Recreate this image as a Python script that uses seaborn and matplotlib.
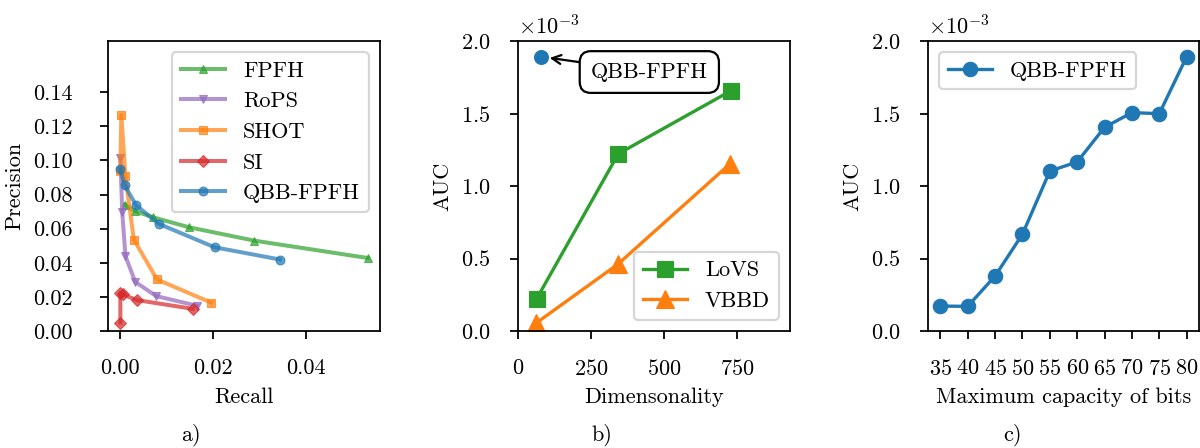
import matplotlib
matplotlib.use("Agg")
import matplotlib.pyplot as plt
import seaborn as sns
import numpy as np

plt.rcParams['font.family'] = ['cmr10', 'DejaVu Serif']
plt.rcParams['mathtext.fontset'] = 'cm'
plt.rcParams['axes.formatter.use_mathtext'] = True
plt.rcParams['font.size'] = 10
plt.rcParams['axes.unicode_minus'] = False

# ---- Panel a data (Recall / Precision) ----
fpfh_recall = [0.0009, 0.0032, 0.0070, 0.0148, 0.0288, 0.0533]
fpfh_prec = [0.0741, 0.0702, 0.0667, 0.0608, 0.0530, 0.0428]
rops_recall = [0.0000, 0.0004, 0.0011, 0.0032, 0.0077, 0.0165]
rops_prec = [0.1014, 0.0696, 0.0439, 0.0288, 0.0205, 0.0148]
shot_recall = [0.0000, 0.0002, 0.0011, 0.0029, 0.0079, 0.0196]
shot_prec = [0.0936, 0.1267, 0.0906, 0.0536, 0.0302, 0.0166]
si_recall = [0.0000, 0.0000, 0.0005, 0.0036, 0.0156]
si_prec = [0.0049, 0.0224, 0.0214, 0.0181, 0.0130]
qbb_recall = [0.0000, 0.0009, 0.0034, 0.0083, 0.0203, 0.0344]
qbb_prec = [0.0949, 0.0854, 0.0737, 0.0628, 0.0491, 0.0419]
prec_ticks = [0.00, 0.02, 0.04, 0.06, 0.08, 0.10, 0.12, 0.14]

# ---- Panel b data (Dimensionality / AUC) ----
lovs_dim = [64, 343, 729]
lovs_auc = [0.223e-3, 1.222e-3, 1.658e-3]
vbbd_dim = [61, 341, 726]
vbbd_auc = [0.053e-3, 0.460e-3, 1.155e-3]
qbb_dim = [78]
qbb_auc_b = [1.892e-3]
dim_ticks = [0, 250, 500, 750]

# ---- Panel c data (bits / AUC) ----
bits = [35, 40, 45, 50, 55, 60, 65, 70, 75, 80]
qbb_auc_c = [0.172e-3, 0.170e-3, 0.379e-3, 0.667e-3, 1.103e-3,
             1.166e-3, 1.405e-3, 1.506e-3, 1.499e-3, 1.892e-3]

C_BLUE, C_ORANGE, C_GREEN, C_RED, C_PURPLE = sns.color_palette("tab10")[:5]

fig = plt.figure(figsize=(7.5, 2.8), dpi=160)
bottom, height = 1 - 331 / 448, (331 - 41) / 448
axa = fig.add_axes([108 / 1200, bottom, 272 / 1200, height])
axb = fig.add_axes([518 / 1200, bottom, 272 / 1200, height])
axc = fig.add_axes([928 / 1200, bottom, 271 / 1200, height])

# Panel a
series_a = [
    ("FPFH", fpfh_recall, fpfh_prec, C_GREEN, "^"),
    ("RoPS", rops_recall, rops_prec, C_PURPLE, "v"),
    ("SHOT", shot_recall, shot_prec, C_ORANGE, "s"),
    ("SI", si_recall, si_prec, C_RED, "D"),
    ("QBB-FPFH", qbb_recall, qbb_prec, C_BLUE, "o"),
]
for name, xs, ys, col, mk in series_a:
    sns.lineplot(x=xs, y=ys, ax=axa, color=col, marker=mk, markersize=4,
                 markeredgecolor=col, markeredgewidth=0.5, linewidth=1.8,
                 alpha=0.7, estimator=None, sort=False, label=name)
axa.set_ylim(0, 0.17)
axa.set_yticks(prec_ticks)
axa.set_yticklabels([f"{t:.2f}" for t in prec_ticks])
axa.set_xticks([0.0, 0.02, 0.04])
axa.set_xticklabels(["0.00", "0.02", "0.04"])
axa.set_xlabel("Recall")
axa.set_ylabel("Precision")
axa.legend(loc="upper right")
axa.tick_params(axis="y", pad=12.5)

# Panel b
sns.lineplot(x=lovs_dim, y=lovs_auc, ax=axb, color=C_GREEN, marker="s",
             markersize=7, markeredgecolor=C_GREEN, markeredgewidth=0.5,
             linewidth=1.5, estimator=None, sort=False, label="LoVS")
sns.lineplot(x=vbbd_dim, y=vbbd_auc, ax=axb, color=C_ORANGE, marker="^",
             markersize=8, markeredgecolor=C_ORANGE, markeredgewidth=0.5,
             linewidth=1.5, estimator=None, sort=False, label="VBBD")
sns.lineplot(x=qbb_dim, y=qbb_auc_b, ax=axb, color=C_BLUE, marker="o",
             markersize=6, markeredgecolor=C_BLUE, linewidth=0,
             estimator=None, sort=False, legend=False)
axb.annotate("QBB-FPFH", xy=(qbb_dim[0], qbb_auc_b[0]), xytext=(449, 1.786e-3),
             ha="center", va="center",
             bbox=dict(boxstyle="round,pad=0.5", fc="white", ec="black", lw=1.0),
             arrowprops=dict(arrowstyle="->", color="black", lw=1.0,
                             shrinkA=0, shrinkB=4))
axb.set_xlim(0, 930)
axb.set_xticks(dim_ticks)
axb.set_ylim(0, 2e-3)
axb.set_yticks([0, 0.5e-3, 1e-3, 1.5e-3, 2e-3])
axb.set_xlabel("Dimensonality")
axb.set_ylabel("AUC")
axb.legend(loc="lower right")

# Panel c
sns.lineplot(x=bits, y=qbb_auc_c, ax=axc, color=C_BLUE, marker="o",
             markersize=6.5, markeredgecolor=C_BLUE, markeredgewidth=0.5,
             linewidth=1.5, estimator=None, sort=False, label="QBB-FPFH")
axc.set_xticks(bits)
axc.set_ylim(0, 2e-3)
axc.set_yticks([0, 0.5e-3, 1e-3, 1.5e-3, 2e-3])
axc.set_xlabel("Maximum capacity of bits")
axc.set_ylabel("AUC")
axc.legend(loc="upper left")

for ax in (axb, axc):
    ax.ticklabel_format(axis="y", style="sci", scilimits=(0, 0), useMathText=True)
    ax.tick_params(axis="y", pad=9)
for ax in (axa, axb, axc):
    ax.tick_params(axis="x", pad=9)

fig.text(191 / 1200, 1 - 435 / 448, "a)", ha="center", va="center")
fig.text(602 / 1200, 1 - 435 / 448, "b)", ha="center", va="center")
fig.text(1012 / 1200, 1 - 435 / 448, "c)", ha="center", va="center")

fig.savefig("out.png", dpi=160)
